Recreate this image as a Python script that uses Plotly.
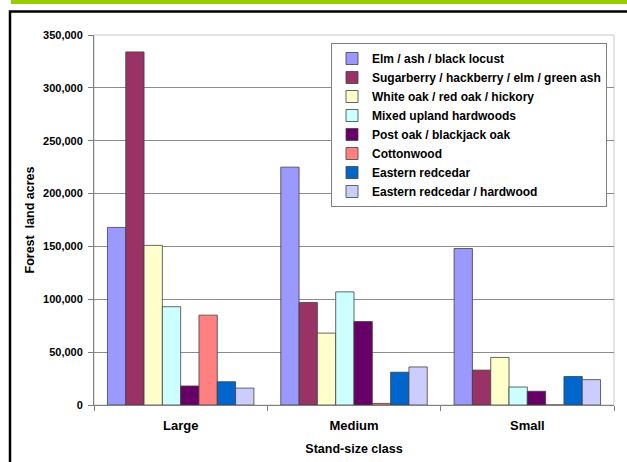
import plotly.graph_objects as go

categories = ["Large", "Medium", "Small"]
series_names = [
    "Elm / ash / black locust",
    "Sugarberry / hackberry / elm / green ash",
    "White oak / red oak / hickory",
    "Mixed upland hardwoods",
    "Post oak / blackjack oak",
    "Cottonwood",
    "Eastern redcedar",
    "Eastern redcedar / hardwood",
]
elm_ash = [168000, 225000, 148000]
sugarberry = [334000, 97000, 33000]
white_oak = [151000, 68000, 45000]
mixed_upland = [93000, 107000, 17000]
post_oak = [18000, 79000, 13000]
cottonwood = [85000, 1500, 0]
redcedar = [22000, 31000, 27000]
redcedar_hardwood = [16000, 36000, 24000]
series_values = [elm_ash, sugarberry, white_oak, mixed_upland, post_oak,
                 cottonwood, redcedar, redcedar_hardwood]
colors = ["#9999FF", "#993366", "#FFFFCC", "#CCFFFF", "#660066",
          "#FF8080", "#0066CC", "#CCCCFF"]
y_tick_vals = [0, 50000, 100000, 150000, 200000, 250000, 300000, 350000]

W, H = 627, 462
L, R, T, B = 94, 13, 35, 57
PW = W - L - R
PH = H - T - B

def px_x(p):
    return (p - L) / PW

def px_y(p):
    return (H - B - p) / PH

fig = go.Figure()
for name, vals, col in zip(series_names, series_values, colors):
    fig.add_trace(go.Bar(
        x=categories, y=vals, name=name,
        marker=dict(color=col, line=dict(color="#404040", width=0.8)),
    ))

font_family = "Liberation Sans, Arial, sans-serif"

fig.update_layout(
    width=W, height=H,
    margin=dict(l=L, r=R, t=T, b=B, pad=0),
    paper_bgcolor="white", plot_bgcolor="white",
    barmode="group", bargap=0.155, bargroupgap=0,
    font=dict(family=font_family, color="#000000", size=10),
    showlegend=True,
    legend=dict(
        x=px_x(331), y=px_y(43), xanchor="left", yanchor="top",
        bordercolor="#808080", borderwidth=1, bgcolor="white",
        font=dict(family=font_family, size=12, color="#000000", weight="bold"),
        tracegroupgap=0, itemwidth=30,
    ),
    xaxis=dict(
        title=dict(text="<b>Stand-size class</b>", font=dict(size=12.5), standoff=12),
        automargin=False,
        showline=True, linecolor="#808080", linewidth=1,
        ticks="outside", tickson="boundaries", ticklen=5, tickcolor="#808080",
        tickfont=dict(size=13, weight="bold"), ticklabelstandoff=8,
        showgrid=False,
    ),
    yaxis=dict(
        title=dict(text="<b>Forest  land acres</b>", font=dict(size=12.5), standoff=5),
        automargin=False,
        range=[0, 350000], tickvals=y_tick_vals, tickformat=",",
        showline=True, linecolor="#808080", linewidth=1,
        ticks="outside", ticklen=5, tickcolor="#808080",
        tickfont=dict(size=11, weight="bold"), ticklabelstandoff=3,
        showgrid=True, gridcolor="#8c8c8c", gridwidth=1,
        zeroline=False,
    ),
    shapes=[
        # light plot-area border
        dict(type="rect", xref="paper", yref="paper", x0=0, y0=0, x1=1, y1=1,
             line=dict(color="#c8c8c8", width=1), layer="below"),
        # green top band
        dict(type="rect", xref="paper", yref="paper",
             x0=px_x(11), x1=px_x(640), y0=px_y(4), y1=px_y(-2),
             fillcolor="#99CC00", line=dict(width=0)),
        # black frame (top and left edges visible)
        dict(type="rect", xref="paper", yref="paper",
             x0=px_x(10), x1=px_x(660), y0=px_y(490), y1=px_y(11.5),
             line=dict(color="black", width=2.5)),
    ],
)

fig.write_html("out.html")
